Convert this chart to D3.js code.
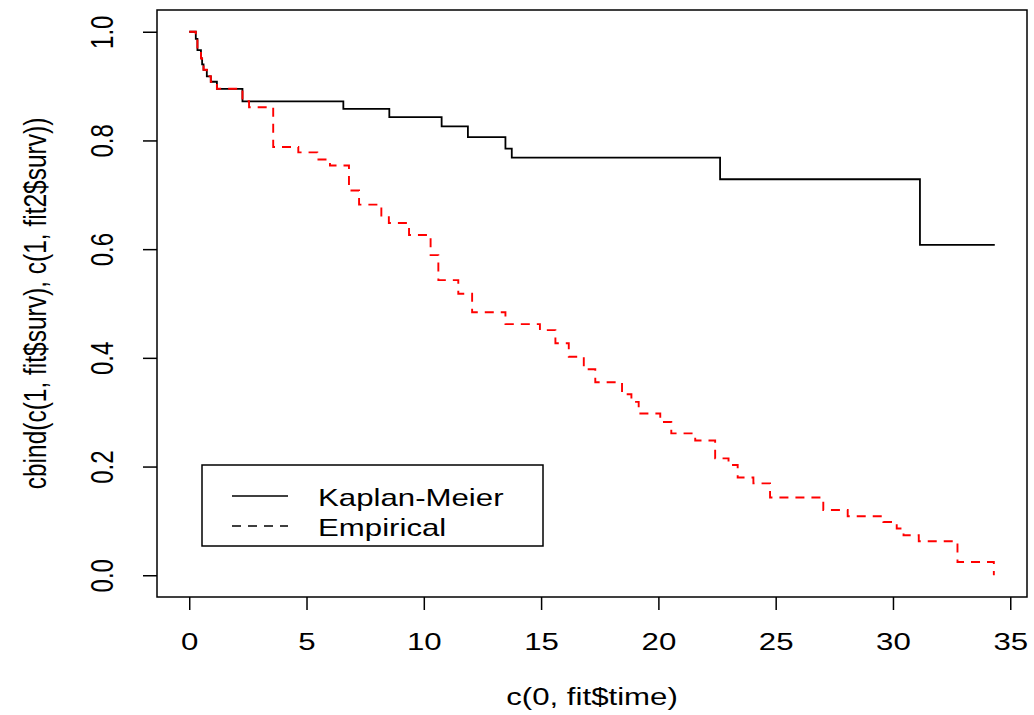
<!DOCTYPE html>
<html>
<head>
<meta charset="utf-8">
<script src="https://cdn.jsdelivr.net/npm/d3@7"></script>
<style>
  body { margin: 0; background: #fff; }
  text { font-family: "Liberation Sans", Arial, sans-serif; fill: #000; }
</style>
</head>
<body>
<svg id="chart" width="1034" height="715"></svg>
<script>
// Kaplan-Meier curve (step times and survival after each step)
const kmTime = [0, 0.28, 0.35, 0.5, 0.55, 0.61, 0.75, 0.92, 1.18, 2.27, 6.57, 8.53, 10.76, 11.88, 13.48, 13.75, 22.63, 31.15, 34.34];
const kmSurv = [1.0, 0.987, 0.966, 0.951, 0.94, 0.93, 0.918, 0.908, 0.895, 0.872, 0.858, 0.843, 0.826, 0.806, 0.785, 0.7685, 0.7286, 0.6078, 0.6078];

// Empirical curve
const empTime = [0, 0.28, 0.35, 0.5, 0.55, 0.61, 0.75, 0.92, 1.18, 2.27, 2.55, 3.58, 4.65, 5.46, 6.0, 6.81, 7.24, 8.19, 8.51, 9.37,
  10.29, 10.62, 11.47, 12.06, 13.48, 14.95, 15.61, 16.18, 16.82, 17.31, 18.45, 18.85, 19.16, 20.08, 20.55, 21.57, 22.42, 22.99,
  23.38, 24.05, 24.76, 27.03, 28.07, 29.59, 30.16, 30.45, 31.1, 32.75, 34.3];
const empSurv = [1.0, 0.987, 0.966, 0.951, 0.94, 0.93, 0.918, 0.908, 0.895, 0.872, 0.861, 0.788, 0.778, 0.765, 0.754, 0.708, 0.682, 0.659, 0.648, 0.626,
  0.589, 0.543, 0.518, 0.484, 0.462, 0.451, 0.427, 0.402, 0.379, 0.355, 0.333, 0.319, 0.2975, 0.282, 0.261, 0.248, 0.215, 0.203,
  0.180, 0.169, 0.143, 0.120, 0.1086, 0.098, 0.086, 0.0736, 0.0626, 0.0245, 0.0];

const xTicks = [0, 5, 10, 15, 20, 25, 30, 35];
const yTicks = [0, 0.2, 0.4, 0.6, 0.8, 1.0];
const legendLabels = ["Kaplan-Meier", "Empirical"];

const svg = d3.select("#chart");
const box = { left: 157, right: 1027, top: 10, bottom: 597 };
const stretch = 1.3;   // the source picture is wider than R drew it, text included
const fs = "24px";

// R style 4% padding on each side
const xMax = d3.max(kmTime.concat(empTime));
const x = d3.scaleLinear()
  .domain([-0.04 * xMax, xMax * 1.04])
  .range([box.left, box.right]);
const y = d3.scaleLinear()
  .domain([-0.04, 1.04])
  .range([box.bottom, box.top]);

const line = d3.line()
  .x(d => x(d[0]))
  .y(d => y(d[1]))
  .curve(d3.curveStepAfter);

svg.append("path")
  .datum(d3.zip(kmTime, kmSurv))
  .attr("d", line)
  .attr("fill", "none")
  .attr("stroke", "#000")
  .attr("stroke-width", 1.8);

svg.append("path")
  .datum(d3.zip(empTime, empSurv))
  .attr("d", line)
  .attr("fill", "none")
  .attr("stroke", "#ff0000")
  .attr("stroke-width", 1.9)
  .attr("stroke-dasharray", "9,7");

// plot box
svg.append("rect")
  .attr("x", box.left).attr("y", box.top)
  .attr("width", box.right - box.left).attr("height", box.bottom - box.top)
  .attr("fill", "none").attr("stroke", "#000").attr("stroke-width", 1.5);

// axes
const xAxis = svg.append("g")
  .attr("transform", `translate(0,${box.bottom})`)
  .call(d3.axisBottom(x).tickValues(xTicks).tickSize(13).tickFormat(d3.format("d")));
xAxis.select(".domain").remove();
xAxis.selectAll("line").attr("stroke-width", 1.5);
xAxis.selectAll("text")
  .attr("y", null).attr("dy", null)
  .attr("transform", `translate(0,53) scale(${stretch},1)`)
  .style("font-size", fs);

const yAxis = svg.append("g")
  .attr("transform", `translate(${box.left},0)`)
  .call(d3.axisLeft(y).tickValues(yTicks).tickSize(14).tickFormat(d3.format(".1f")));
yAxis.select(".domain").remove();
yAxis.selectAll("line").attr("stroke-width", 1.5);
yAxis.selectAll("text")
  .attr("x", null).attr("dy", null)
  .attr("text-anchor", "middle")
  .attr("transform", `translate(-44,0) scale(${stretch},1) rotate(-90)`)
  .style("font-size", fs);

// axis titles
svg.append("text")
  .attr("transform", `translate(${(box.left + box.right) / 2},705) scale(${stretch},1)`)
  .attr("text-anchor", "middle")
  .style("font-size", fs)
  .text("c(0, fit$time)");

svg.append("text")
  .attr("transform", `translate(46,${(box.top + box.bottom) / 2}) scale(${stretch},1) rotate(-90)`)
  .attr("text-anchor", "middle")
  .style("font-size", "24.5px")
  .text("cbind(c(1, fit$surv), c(1, fit2$surv))");

// legend
const legend = svg.append("g");
legend.append("rect")
  .attr("x", 202).attr("y", 465).attr("width", 341).attr("height", 81)
  .attr("fill", "#fff").attr("stroke", "#000").attr("stroke-width", 1.5);
const styles = [{ dash: null }, { dash: "9,7" }];
legendLabels.forEach((lab, i) => {
  const ly = 496 + i * 30;
  legend.append("line")
    .attr("x1", 232).attr("x2", 288).attr("y1", ly).attr("y2", ly)
    .attr("stroke", "#000").attr("stroke-width", 1.5)
    .attr("stroke-dasharray", styles[i].dash);
  legend.append("text")
    .attr("transform", `translate(318,${ly + 10}) scale(${stretch},1)`)
    .style("font-size", fs)
    .text(lab);
});
</script>
</body>
</html>
